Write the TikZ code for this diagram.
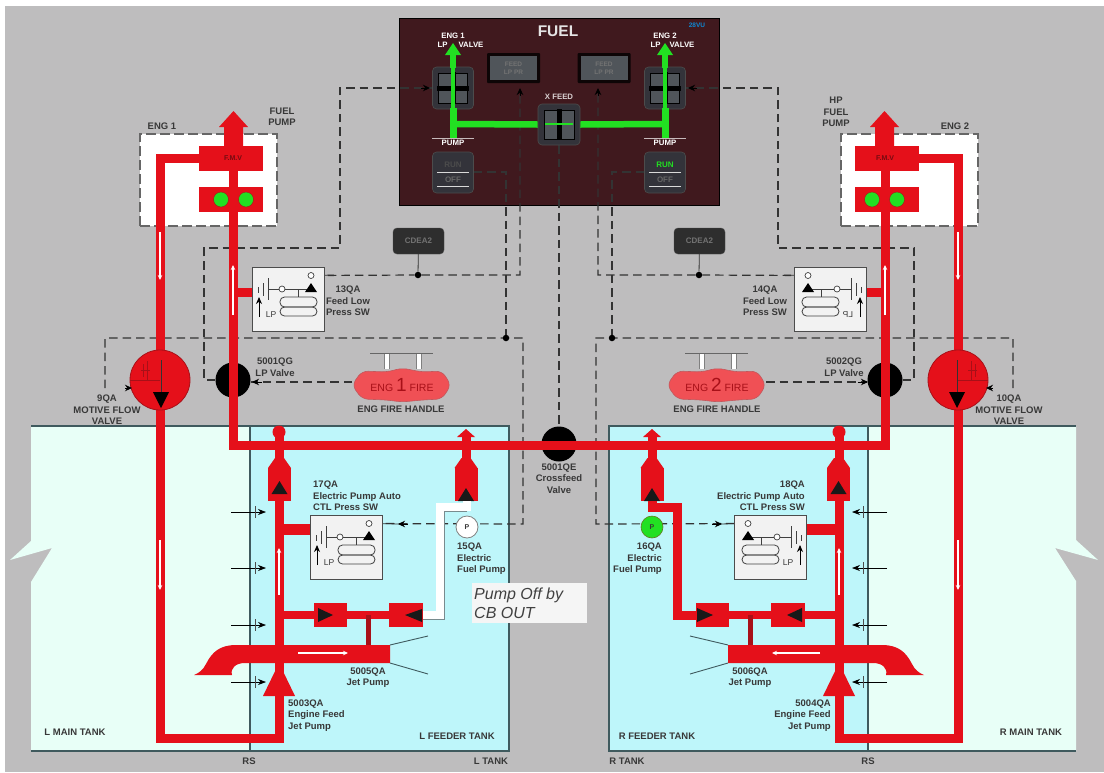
\documentclass[tikz,border=0pt]{standalone}
\usepackage{fontspec}
\setmainfont{Liberation Sans}
\usetikzlibrary{arrows.meta}
\pgfdeclarelayer{bg}
\pgfdeclarelayer{sig}
\pgfsetlayers{bg,sig,main}
\definecolor{bggrey}{HTML}{BEBDBE}
\definecolor{mint}{HTML}{E8FFF7}
\definecolor{feeder}{HTML}{BEF6FA}
\definecolor{tankline}{HTML}{3F5A5E}
\definecolor{pipered}{HTML}{E5101A}
\definecolor{darkred}{HTML}{A81018}
\definecolor{labtext}{HTML}{383838}
\definecolor{panelbrown}{HTML}{40191E}
\definecolor{lamp}{HTML}{22E022}
\definecolor{firered}{HTML}{F05055}
\definecolor{btngrey}{HTML}{33333A}
\definecolor{btninner}{HTML}{50555A}
\tikzset{
  pipe/.style={draw=pipered,line width=9pt,line join=miter,line cap=butt},
  sigline/.style={draw=black!80,line width=1.2pt,dash pattern=on 8.5pt off 5pt},
  thinline/.style={draw=black!80,line width=.8pt},
  flow/.style={draw=white,line width=1.6pt,-{Stealth[length=5pt,width=4.5pt]}},
  lab/.style={font=\fontsize{9.5}{11.5}\selectfont\bfseries,text=labtext,inner sep=0pt,align=center},
  panlab/.style={font=\fontsize{7.8}{9}\selectfont\bfseries,text=white,inner sep=0pt,align=center},
  redbox/.style={fill=pipered,inner sep=0pt},
  swbox/.style={draw=black!70,line width=.8pt,fill=white!95!black,inner sep=0pt,minimum width=72pt,minimum height=64pt},
  swline/.style={draw=black!75,line width=.8pt},
  grnpipe/.style={draw=lamp,line width=6.5pt},
  btnouter/.style={fill=btngrey,draw=black!60!bggrey,line width=.6pt,rounded corners=4pt,inner sep=0pt},
  btninnerst/.style={fill=btninner,draw=black,line width=.5pt,inner sep=0pt},
  dotn/.style={circle,fill=black,inner sep=0pt,minimum size=6.5pt},
  tank/.style={draw=tankline,line width=1.1pt},
  lefts/.style={},
  rights/.style={shift={(1118,0)},xscale=-1}
}
\newcommand\chkv[3]{% name, x, triangle base y
  \fill[pipered] (#2-4.5,458) -- (#2-11.5,468) -- (#2+11.5,468) -- (#2+4.5,458) -- cycle;
  \node[redbox,minimum width=23pt,minimum height=33pt] (#1) at (#2,484.5) {};
  \fill[black!90] (#2-8,#3) -- (#2+8,#3) -- (#2,#3-13) -- cycle;
}
\newcommand\pswitch[5]{% name, x, y, sign, LP opts
  \begin{scope}[shift={(#2,#3)},xscale=#4]
    \node[swbox] (#1) at (36.5,32) {};
    \draw[swline] (16,11) -- (16,33);
    \draw[swline] (11,16) -- (11,29);
    \draw[swline] (6,20) -- (6,26);
    \draw[swline] (16,22) -- (58,22);
    \draw[swline] (46,22) -- (46,30);
    \node[circle,draw=black!75,fill=white,line width=.7pt,inner sep=0pt,minimum size=6pt] at (30,22) {};
    \node[circle,draw=black!75,fill=white,line width=.7pt,inner sep=0pt,minimum size=6pt] (#1c) at (59,8.5) {};
    \fill[black] (53,25) -- (65,25) -- (59,16) -- cycle;
    \draw[swline,rounded corners=4.5pt] (28,30) rectangle (65,40);
    \draw[swline,rounded corners=4.5pt] (28,40) rectangle (65,49);
    \draw[line width=.9pt,-{Stealth[length=7pt,width=6pt]},draw=black] (7,50) -- (7,30);
    \node[font=\fontsize{8.5}{9}\selectfont,text=labtext,inner sep=0pt,#5] at (19,48) {LP};
  \end{scope}
}
\newcommand\sidegroup[1]{%
  \begin{pgfonlayer}{bg}
    \node[fill=white,draw=black!60,line width=1.1pt,dash pattern=on 10pt off 4pt,inner sep=0pt,minimum width=137pt,minimum height=92pt] (engbox#1) at (208.5,180) {};
  \end{pgfonlayer}
  \node[circle,fill=black,inner sep=0pt,minimum size=35pt] (lpv#1) at (233,380) {};
  \node[redbox,minimum width=64pt,minimum height=25pt] (fmv#1) at (231,158.5) {};
  \node[redbox,minimum width=64pt,minimum height=25pt] (hp#1) at (231,199.5) {};
  \coordinate (mo1#1) at (199,158);
  \coordinate (mo2#1) at (160,158);
  \coordinate (mo3#1) at (160,738);
  \coordinate (mo4#1) at (279,738);
  \coordinate (mo5#1) at (279,432);
  \coordinate (ma1#1) at (233,135);
  \coordinate (ma2#1) at (233,445);
  \coordinate (ma3#1) at (559,445);
  \draw[pipe] (mo1#1) -- (mo2#1) -- (mo3#1) -- (mo4#1) -- (mo5#1);
  \draw[pipe] (ma1#1) -- (ma2#1) -- (ma3#1);
  \fill[pipered] (233.5,111) -- (248,127) -- (243,127) -- (243,146) -- (224,146) -- (224,127) -- (219,127) -- cycle;
  \node[circle,fill=lamp,draw=darkred,line width=.4pt,inner sep=0pt,minimum size=15pt] at (221,199.5) {};
  \node[circle,fill=lamp,draw=darkred,line width=.4pt,inner sep=0pt,minimum size=15pt] at (246,199.5) {};
  \node[circle,fill=pipered,draw=darkred,line width=.8pt,inner sep=0pt,minimum size=60pt] (mfv#1) at (160,380) {};
  \draw[line width=.8pt,draw=darkred] (130,380) -- (160,380);
  \draw[line width=.9pt,draw=black!80] (161,360) -- (161,395);
  \fill[black] (153,392) -- (169,392) -- (161,408) -- cycle;
  \draw[line width=.8pt,draw=darkred] (143,364) -- (143,377) (147,361) -- (147,380) (141,370) -- (150,370);
  \draw[flow] (160,232) -- (160,280);
  \draw[flow] (160,540) -- (160,590);
  \draw[flow] (233,315) -- (233,265);
  \draw[flow] (279,595) -- (279,548);
  \node[circle,fill=pipered,inner sep=0pt,minimum size=13pt] at (279,432) {};
  \chkv{cvf#1}{279.5}{494}
  % jet pump
  \draw[pipe,line width=8pt] (279,615) -- (390,615);
  \draw[draw=darkred,line width=5pt] (368,615) -- (368,646);
  \fill[pipered] (390,645) -- (236,645) .. controls (220,645) and (212,652) .. (206,664) .. controls (203,670) and (199,673) .. (194,675) -- (232,675) .. controls (230,668) and (236,663) .. (245,663) -- (390,663) -- cycle;
  \draw[swline,draw=tankline,line width=.9pt] (390,645) -- (428,636) (390,663) -- (428,674);
  \fill[pipered] (279,663) -- (295,696) -- (263,696) -- cycle;
  \foreach \ya in {512,568,625,682}{
    \draw[line width=.7pt,draw=black,-{Stealth[length=8pt,width=6pt]}] (231,\ya) -- (266,\ya);
    \draw[line width=.7pt,draw=black!70] (255,\ya-6) -- (255,\ya+6);
  }
  \node[redbox,minimum width=33pt,minimum height=24pt] (hva#1) at (330.5,615) {};
  \fill[black!90] (318,608) -- (333,615) -- (318,622) -- cycle;
}
\begin{document}
\begin{tikzpicture}[x=1pt,y=-1pt]
\useasboundingbox (0,0) rectangle (1104,772);
\begin{pgfonlayer}{bg}
  \fill[white] (0,0) rectangle (1104,772);
  \fill[bggrey] (5,6) rectangle (1104,772);
  % tanks
  \fill[mint] (31,426) -- (250,426) -- (250,751) -- (31,751) -- (31,582) -- (52,548) -- (10,560) -- (31,541) -- cycle;
  \fill[mint] (868,426) -- (1076,426) -- (1076,540) -- (1098,560) -- (1055,548) -- (1076,581) -- (1076,751) -- (868,751) -- cycle;
  \fill[feeder] (250,426) rectangle (509,751);
  \fill[feeder] (609,426) rectangle (868,751);
  \draw[tank] (31,426) -- (509,426) -- (509,751) -- (31,751);
  \draw[tank] (250,426) -- (250,751);
  \draw[tank] (1076,426) -- (609,426) -- (609,751) -- (1076,751);
  \draw[tank] (868,426) -- (868,751);
  % panel
  \node[fill=panelbrown,draw=black,line width=1pt,inner sep=0pt,minimum width=320pt,minimum height=187pt] (panel) at (559,111.5) {};
\end{pgfonlayer}

% central valve
\node[circle,fill=black,inner sep=0pt,minimum size=35pt] (xfv) at (559,444) {};

\begin{scope}[lefts] \sidegroup{L} \end{scope}
\begin{scope}[rights] \sidegroup{R} \end{scope}

% left electric pump line (dead: white)
\draw[pipe] (466,436) -- (466,468);
\fill[pipered] (466,429) -- (475,437) -- (457,437) -- cycle;
\chkv{cve}{466}{501}
\coordinate (wa) at (467,507);
\coordinate (wb) at (440,507);
\coordinate (wc) at (440,615);
\draw[draw=tankline!70,line width=9pt] (wa) -- (wb) -- (wc) -- (423,615);
\draw[draw=white,line width=7.4pt] (467,501) -- (wa) -- (wb) -- (wc) -- (423,615);
\node[redbox,minimum width=34pt,minimum height=24pt] (hvbL) at (406,615) {};
\fill[black!90] (422,609) -- (405,615) -- (422,622) -- cycle;
\node[circle,draw=black!50,fill=white,line width=.8pt,inner sep=0pt,minimum size=22pt,font=\fontsize{7}{8}\selectfont\bfseries,text=labtext] (pumpL) at (467,527) {P};

% right electric pump line (live)
\draw[pipe] (652,436) -- (652,468);
\fill[pipered] (652,429) -- (661,437) -- (643,437) -- cycle;
\chkv{cvr}{652}{501}
\draw[pipe] (652,501) -- (652,507) -- (677,507) -- (677,615) -- (696,615);
\node[redbox,minimum width=33pt,minimum height=24pt] (hvbR) at (712.5,615) {};
\fill[black!90] (697,608) -- (713,615) -- (697,622) -- cycle;
\node[redbox,minimum width=33pt,minimum height=24pt] (hvaR2) at (788.5,615) {};
\fill[black!90] (802,608) -- (787,615) -- (802,622) -- cycle;
\node[circle,draw=darkred!50!lamp,fill=lamp,line width=.6pt,inner sep=0pt,minimum size=22pt,font=\fontsize{7}{8}\selectfont\bfseries,text=labtext] (pumpR) at (652,527) {P};

% pressure switches and stubs
\pswitch{swA}{252}{267}{1}{}
\pswitch{swB}{867}{267}{-1}{xscale=1,transform shape}
\pswitch{swC}{310}{515}{1}{}
\pswitch{swD}{807}{515}{-1}{}
\draw[pipe] (238,292) -- (swA.west |- 0,292);
\draw[pipe] (swB.east |- 0,292) -- (881,292);
\draw[pipe,line width=11pt] (279,529) -- (swC.west |- 0,529);
\draw[pipe,line width=11pt] (swD.east |- 0,529) -- (839,529);

% fire handles
\newcommand\firehandle[3]{%
  \draw[draw=black!60,line width=.8pt] (#1-32,353) -- (#1+31,353);
  \fill[white] (#1-18,354) rectangle (#1-13,369);
  \fill[white] (#1+14,354) rectangle (#1+19,369);
  \draw[draw=black!50,line width=.5pt] (#1-18,354) -- (#1-18,369) (#1-13,354) -- (#1-13,369) (#1+14,354) -- (#1+14,369) (#1+19,354) -- (#1+19,369);
  \draw[fill=firered,draw=darkred!70,line width=.6pt,rounded corners=6pt] (#1-50,385) -- (#1-40,371) -- (#1-15,372) -- (#1,368) -- (#1+20,372) -- (#1+40,371) -- (#1+49,385) -- (#1+40,399) -- (#1+20,400) -- (#1,402) -- (#1-15,400) -- (#1-40,399) -- cycle;
  \node[inner sep=0pt,text=darkred,font=\fontsize{10.5}{12}\selectfont] (#3) at (#1,385) {ENG {\fontsize{19}{19}\selectfont #2} FIRE};
}
\firehandle{402}{1}{fireL}
\firehandle{717}{2}{fireR}

% panel content
\newcommand\lpbutton[2]{%
  \node[btnouter,minimum width=41pt,minimum height=42pt] (#1) at (#2,88) {};
  \node[btninnerst,minimum width=29pt,minimum height=30pt] at (#2,88) {};
  \fill[black] (#2-16,86) rectangle (#2+16,91);
  \fill[black] (#2-2.5,72) rectangle (#2+2.5,104);
}
\lpbutton{btnL}{453}
\lpbutton{btnR}{665}
\node[btnouter,minimum width=42pt,minimum height=41pt] (btnX) at (559,124.5) {};
\node[btninnerst,minimum width=30pt,minimum height=29pt] at (559,124.5) {};
\fill[black] (556.5,109) rectangle (561.5,140);
\draw[draw=lamp,line width=2pt] (545,124) -- (573,124);
\node[panlab,text=panelbrown!20!white] at (559,97) {X FEED};
\node[panlab,text=white!90!black] at (558,31) {\fontsize{15.5}{17}\selectfont FUEL};
\node[inner sep=0pt,text=cyan!70!blue,font=\fontsize{6.5}{7}\selectfont\bfseries] at (697,25) {28VU};
\node[panlab] at (453,36) {ENG 1};
\node[panlab] at (460.5,45) {LP\hspace{11pt}VALVE};
\node[panlab] at (665,36) {ENG 2};
\node[panlab] at (672.5,45) {LP\hspace{9pt}VALVE};
\foreach \xa in {453,665}{
  \draw[grnpipe,line width=7pt] (\xa,138) -- (\xa,108);
  \draw[draw=lamp,line width=3.5pt] (\xa,108) -- (\xa,68);
  \draw[grnpipe] (\xa,68) -- (\xa,54);
  \fill[lamp] (\xa,43) -- (\xa+8,55) -- (\xa-8,55) -- cycle;
}
\draw[grnpipe] (453,124) -- (btnX.west);
\draw[grnpipe] (btnX.east) -- (665,124);
\foreach \xa/\nm in {513.5/fdL,604/fdR}{
  \node[fill=black!80!panelbrown,inner sep=0pt,rounded corners=1pt,minimum width=53pt,minimum height=30pt] (\nm) at (\xa,68) {};
  \node[fill=btninner,inner sep=0pt,minimum width=47pt,minimum height=24pt,align=center,font=\fontsize{6.5}{8}\selectfont\bfseries,text=black!55] at (\xa,68) {FEED\\LP PR};
}
\foreach \xa/\nm/\runcol/\linecol in {453/pmpL/black!70/black!60,665/pmpR/lamp/black!60}{
  \draw[draw=white!70!panelbrown,line width=.6pt] (\xa-21,138) -- (\xa+21,138);
  \node[panlab] at (\xa,143) {PUMP};
  \node[btnouter,minimum width=41pt,minimum height=41pt] (\nm) at (\xa,172.5) {};
  \node[inner sep=0pt,font=\fontsize{8}{9}\selectfont\bfseries,text=\runcol] at (\xa,165) {RUN};
  \node[inner sep=0pt,font=\fontsize{8}{9}\selectfont\bfseries,text=\linecol] at (\xa,180) {OFF};
  \draw[draw=white!85!black,line width=.9pt] (\xa-16,172) -- (\xa+16,172);
  \draw[draw=white!85!black,line width=.9pt] (\xa-16,186.5) -- (\xa+16,186.5);
}

% small boxes
\foreach \xa/\nm in {418.5/ecL,699.5/ecR}{
  \node[fill=black!82,draw=black!70,rounded corners=4pt,inner sep=0pt,minimum width=51pt,minimum height=26pt,font=\fontsize{8}{9}\selectfont\bfseries,text=black!55] (\nm) at (\xa,241) {CDEA2};
}

% signal dots
\node[dotn] (dA) at (418,275) {};
\node[dotn] (dB) at (506,338) {};
\node[dotn] (dC) at (699,275) {};
\node[dotn] (dD) at (612,338) {};

% signal lines
\begin{pgfonlayer}{sig}
  \coordinate (a1) at (520,275); \coordinate (a2) at (520,89);
  \draw[sigline] (swAc) -- (dA) -- (a1) -- (a2);
  \coordinate (a3) at (598,275); \coordinate (a4) at (598,89);
  \draw[sigline] (swBc) -- (dC) -- (a3) -- (a4);
  \draw[thinline] (ecL) -- (dA);
  \draw[thinline] (ecR) -- (dC);
  \coordinate (b1) at (506,172);
  \draw[sigline] (pmpL.east |- b1) -- (b1) -- (dB);
  \coordinate (b2) at (612,172);
  \draw[sigline] (pmpR.west |- b2) -- (b2) -- (dD);
  \coordinate (c1) at (105,388); \coordinate (c2) at (105,338); \coordinate (c3) at (523,338); \coordinate (c4) at (523,524);
  \draw[sigline] (c1) -- (c2) -- (c3) -- (c4) -- (swCc);
  \coordinate (d1) at (1013,388); \coordinate (d2) at (1013,338); \coordinate (d3) at (596,338); \coordinate (d4) at (596,524);
  \draw[sigline] (d1) -- (d2) -- (d3) -- (d4) -- (swDc);
  \coordinate (e1) at (204,380); \coordinate (e2) at (204,248); \coordinate (e3) at (340,248); \coordinate (e4) at (340,88);
  \draw[sigline] (lpvL.west |- e1) -- (e1) -- (e2) -- (e3) -- (e4) -- (btnL.west |- e4);
  \coordinate (f1) at (914,380); \coordinate (f2) at (914,248); \coordinate (f3) at (778,248); \coordinate (f4) at (778,88);
  \draw[sigline] (lpvR.east |- f1) -- (f1) -- (f2) -- (f3) -- (f4) -- (btnR.east |- f4);
  \draw[sigline] (btnX.south) -- (xfv.north);
  \coordinate (g1) at (352,382); \coordinate (g2) at (766,382);
  \draw[sigline] (g1) -- (lpvL.east |- g1);
  \draw[sigline] (g2) -- (lpvR.west |- g2);
  % solid stubs at the switch contacts
  \coordinate (s1) at (334,275); \coordinate (s2) at (784,275);
  \coordinate (s3) at (402,524); \coordinate (s4) at (718,524);
  \draw[thinline] (swAc) -- (s1);
  \draw[thinline] (swBc) -- (s2);
  \draw[thinline] (swCc) -- (s3);
  \draw[thinline] (swDc) -- (s4);
\end{pgfonlayer}

% arrowheads on signal lines
\foreach \ax/\ay/\bx/\by in {520/96/520/88, 598/96/598/88, 421/88/430/88, 697/88/688/88, 125/388/132/388, 993/388/986/388, 262/382/252/382, 858/382/868/382, 408/524/398/524, 712/524/722/524}{
  \draw[draw=black,line width=1pt,-{Stealth[length=7pt,width=6.5pt]}] (\ax,\ay) -- (\bx,\by);
}

% flow arrows in jet pumps, over red
\draw[flow] (298,653) -- (348,653);
\draw[flow] (820,653) -- (772,653);

% text on FMV
\node[inner sep=0pt,font=\fontsize{7}{8}\selectfont\bfseries,text=darkred!70!black] at (233,158) {F.M.V};
\node[inner sep=0pt,font=\fontsize{7}{8}\selectfont\bfseries,text=darkred!70!black] at (885,158) {F.M.V};

% labels
\node[lab] at (162,126) {ENG 1};
\node[lab] at (955,126) {ENG 2};
\node[lab] at (282,117) {FUEL\\PUMP};
\node[lab] at (836,112) {HP\\FUEL\\PUMP};
\node[lab] at (348,301) {13QA\\Feed Low\\Press SW};
\node[lab] at (765,301) {14QA\\Feed Low\\Press SW};
\node[lab] at (275,367) {5001QG\\LP Valve};
\node[lab] at (844,367) {5002QG\\LP Valve};
\node[lab] at (401,409) {ENG FIRE HANDLE};
\node[lab] at (717,409) {ENG FIRE HANDLE};
\node[lab] at (107,410) {9QA\\MOTIVE FLOW\\VALVE};
\node[lab] at (1009,410) {10QA\\MOTIVE FLOW\\VALVE};
\node[lab] at (559,478.5) {5001QE\\Crossfeed\\Valve};
\node[lab,anchor=west,align=left] at (313,496) {17QA\\Electric Pump Auto\\CTL Press SW};
\node[lab,anchor=east,align=right] at (805,496) {18QA\\Electric Pump Auto\\CTL Press SW};
\node[lab,anchor=west,align=left] at (457,559) {15QA\\Electric\\Fuel Pump};
\node[lab,anchor=east,align=right] at (662,559) {16QA\\Electric\\Fuel Pump};
\node[lab] at (368,677.5) {5005QA\\Jet Pump};
\node[lab] at (750,677.5) {5006QA\\Jet Pump};
\node[lab,anchor=west,align=left] at (288,715.5) {5003QA\\Engine Feed\\Jet Pump};
\node[lab,anchor=east,align=right] at (831,715.5) {5004QA\\Engine Feed\\Jet Pump};
\node[lab] at (75,732) {L MAIN TANK};
\node[lab] at (1031,732) {R MAIN TANK};
\node[lab] at (457,736) {L FEEDER TANK};
\node[lab] at (657,736) {R FEEDER TANK};
\node[lab] at (249,761) {RS};
\node[lab] at (868,761) {RS};
\node[lab] at (491,761) {L TANK};
\node[lab] at (627,761) {R TANK};

% note
\node[fill=white!96!black,inner sep=0pt,minimum width=115pt,minimum height=40pt,anchor=north west] (note) at (472,583) {};
\node[inner sep=0pt,anchor=west,align=left,font=\fontsize{16}{19.5}\selectfont\itshape,text=black!75] at (note.west) {\hspace{2pt}Pump Off by\\\hspace{2pt}CB OUT};
\end{tikzpicture}
\end{document}
